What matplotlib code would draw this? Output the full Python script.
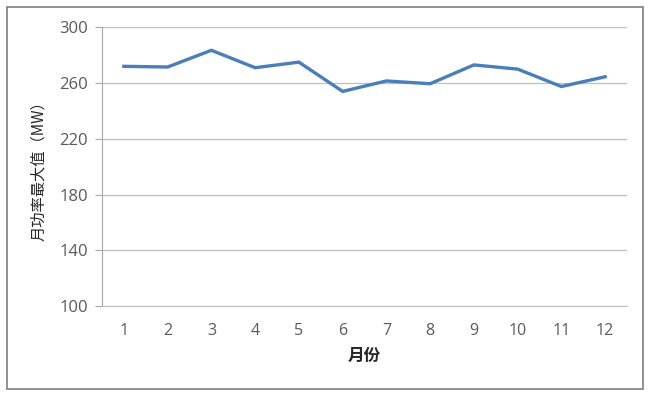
import matplotlib.pyplot as plt
from matplotlib.patches import Rectangle

plt.rcParams['font.family'] = ['Noto Sans CJK SC', 'DejaVu Sans']

months = [1, 2, 3, 4, 5, 6, 7, 8, 9, 10, 11, 12]
max_power = [272, 271.5, 283.5, 271, 275, 254, 261.5, 259.5, 273, 270, 257.5, 264.5]
yticks = [100, 140, 180, 220, 260, 300]

fig = plt.figure(figsize=(6.51, 3.99), dpi=100)
ax = fig.add_axes([102/651, 1 - 306/399, 525/651, (306 - 27.3)/399])

ax.plot(months, max_power, color='#4a7ebb', lw=2.4, solid_joinstyle='miter')

ax.set_xlim(0.5, 12.5)
ax.set_ylim(100, 300)
ax.set_yticks(yticks)
ax.set_xticks(months)
ax.grid(axis='y', color='#bfbfbf', lw=0.9)
ax.set_axisbelow(True)
for s in ['top', 'right']:
    ax.spines[s].set_visible(False)
ax.spines['left'].set_color('#a6a6a6')
ax.spines['bottom'].set_color('#bfbfbf')
ax.tick_params(axis='y', length=5, color='#a6a6a6', labelsize=12, labelcolor='#595959', pad=5)
ax.tick_params(axis='x', length=0, labelsize=11.5, labelcolor='#595959', pad=12)
for lab in ax.get_xticklabels() + ax.get_yticklabels():
    lab.set_family(['Open Sans', 'DejaVu Sans'])

ax.set_xlabel('月份', fontsize=12, fontweight='bold', color='#262626', labelpad=6)
ax.set_ylabel('月功率最大值（MW）', fontsize=11, color='#262626', labelpad=9)

fig.patches.append(Rectangle((7/651, 1 - 389/399), 636/651, 382/399, transform=fig.transFigure,
                             fill=False, edgecolor='#7f7f7f', lw=1.2))

fig.savefig('out.png', dpi=100)
